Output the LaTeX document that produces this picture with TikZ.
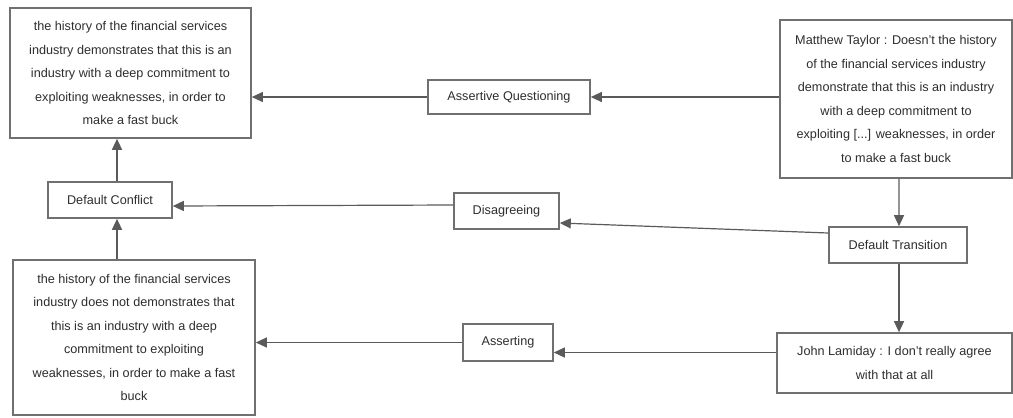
\documentclass[tikz,border=0pt]{standalone}
\usepackage{fontspec}
\setmainfont{Liberation Sans}
\usetikzlibrary{arrows.meta,calc}

\definecolor{boxline}{HTML}{707070}
\definecolor{wire}{HTML}{5A5A5A}
\definecolor{ink}{HTML}{2E2E2E}

\tikzset{
  box/.style={draw=boxline, line width=1.6bp, fill=white, text=ink,
    inner sep=0pt, align=center,
    font=\fontsize{12.7}{23.6}\selectfont},
  arr/.style={draw=wire, line width=1.2bp,
    -{Triangle[length=11bp,width=10bp]}},
}

\begin{document}
\begin{tikzpicture}[x=1bp,y=-1bp]
\useasboundingbox (0,0) rectangle (1013,417);

% propositions and speaker turns
\node[box, minimum width=241bp, minimum height=130bp] (tl) at (130.5,73)
  {the history of the financial services\\
   industry demonstrates that this is an\\
   industry with a deep commitment to\\
   exploiting weaknesses, in order to\\
   make a fast buck};

\node[box, minimum width=232bp, minimum height=158bp] (matt) at (896,99)
  {Matthew Taylor : Doesn't the history\\
   of the financial services industry\\
   demonstrate that this is an industry\\
   with a deep commitment to\\
   exploiting [...] weaknesses, in order\\
   to make a fast buck};

\node[box, minimum width=242bp, minimum height=155bp] (bl) at (134,337.5)
  {the history of the financial services\\
   industry does not demonstrates that\\
   this is an industry with a deep\\
   commitment to exploiting\\
   weaknesses, in order to make a fast\\
   buck};

\node[box, minimum width=235bp, minimum height=60bp] (jl) at (894.5,363)
  {John Lamiday : I don't really agree\\
   with that at all};

% relation nodes
\node[box, minimum width=162bp, minimum height=34bp] (aq) at (509,97)
  {Assertive Questioning};
\node[box, minimum width=124bp, minimum height=36bp] (dc) at (110,200)
  {Default Conflict};
\node[box, minimum width=105bp, minimum height=36bp] (dis) at (506.5,211)
  {Disagreeing};
\node[box, minimum width=138bp, minimum height=36bp] (dt) at (898,245)
  {Default Transition};
\node[box, minimum width=90bp, minimum height=37bp] (as) at (508,342.5)
  {Asserting};

% connectors
\draw[arr] (matt.west |- aq.east) -- (aq.east);
\draw[arr] (aq.west) -- (tl.east |- aq.west);
\draw[arr] ([xshift=3bp]matt.south) -- ([xshift=1bp]dt.north);
\draw[arr] ([yshift=12bp]dt.west) -- ([yshift=-12bp]dis.east);
\draw[arr] ([yshift=6bp]dis.west) -- ([yshift=-6bp]dc.east);
\coordinate (up) at ([xshift=7bp]dc.north);
\draw[arr] (up) -- (up |- tl.south);
\coordinate (lo) at ([xshift=7bp]dc.south);
\draw[arr] (lo |- bl.north) -- (lo);
\draw[arr] ([xshift=1bp]dt.south) -- ([xshift=1bp]dt.south |- jl.north);
\draw[arr] ([yshift=-10bp]jl.west |- as.east) -- ([yshift=-10bp]as.east);
\draw[arr] (as.west) -- (bl.east |- as.west);
\end{tikzpicture}
\end{document}
